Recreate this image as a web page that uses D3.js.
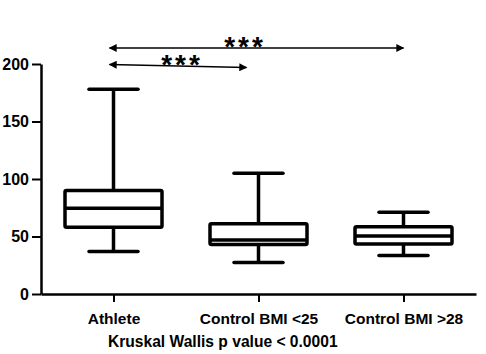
<!DOCTYPE html>
<html>
<head>
<meta charset="utf-8">
<script src="https://cdn.jsdelivr.net/npm/d3@7"></script>
<style>
  body { margin: 0; background: #fff; }
  text { font-family: "Liberation Sans", Arial, sans-serif; font-weight: bold; }
</style>
</head>
<body>
<svg width="486" height="354"></svg>
<script>
const groups = ["Athlete", "Control BMI <25", "Control BMI >28"]
const mins = [37, 27.5, 33.5]
const q1s = [58, 43, 43.5]
const medians = [74.5, 47, 50.5]
const q3s = [90, 61, 58.5]
const maxs = [178, 105, 71]
const yTicks = [0, 50, 100, 150, 200]
const comparisons = [["Athlete", "Control BMI >28"], ["Athlete", "Control BMI <25"]]
const stars = ["***", "***"]
const footnote = "Kruskal Wallis p value < 0.0001"

let svg = d3.select("svg"),
    margin = {top: 64, left: 41, right: 10, bottom: 60},
    width = +svg.attr("width") - margin.left - margin.right,
    height = +svg.attr("height") - margin.top - margin.bottom

let x = d3.scalePoint()
    .domain(groups)
    .range([0, width])
    .padding(0.5)

let y = d3.scaleLinear()
    .domain([0, 200])
    .range([height, 0])

let g = svg.append("g").attr("transform", "translate(" + margin.left + "," + margin.top + ")")

let yAxis = g.append("g")
    .call(d3.axisLeft(y).tickValues(yTicks).tickSize(9).tickSizeOuter(0))
yAxis.select(".domain").attr("stroke-width", 2.5)
yAxis.selectAll(".tick line").attr("stroke-width", 2)
yAxis.selectAll(".tick text").attr("font-size", 16).attr("fill", "#000")
    .attr("font-family", "Liberation Sans, Arial, sans-serif").attr("font-weight", "bold")

let xAxis = g.append("g")
    .attr("transform", "translate(0," + height + ")")
    .call(d3.axisBottom(x).tickSize(8).tickSizeOuter(0))
xAxis.select(".domain").attr("stroke-width", 2.5)
xAxis.selectAll(".tick line").attr("stroke-width", 2)
xAxis.selectAll(".tick text").attr("font-size", 15.5).attr("fill", "#000")
    .attr("y", 30).attr("dy", 0)
    .attr("font-family", "Liberation Sans, Arial, sans-serif").attr("font-weight", "bold")

let boxW = 97, capW = 49
let boxes = g.append("g").selectAll("g").data(groups).enter().append("g")
    .attr("stroke", "#000").attr("stroke-width", 3.5).attr("fill", "none")

boxes.append("line")
    .attr("x1", d => x(d)).attr("x2", d => x(d))
    .attr("y1", (d, i) => y(maxs[i])).attr("y2", (d, i) => y(q3s[i]))
boxes.append("line")
    .attr("x1", d => x(d)).attr("x2", d => x(d))
    .attr("y1", (d, i) => y(q1s[i])).attr("y2", (d, i) => y(mins[i]))
boxes.append("line")
    .attr("x1", d => x(d) - capW / 2).attr("x2", d => x(d) + capW / 2)
    .attr("y1", (d, i) => y(maxs[i])).attr("y2", (d, i) => y(maxs[i]))
    .attr("stroke-linecap", "round")
boxes.append("line")
    .attr("x1", d => x(d) - capW / 2).attr("x2", d => x(d) + capW / 2)
    .attr("y1", (d, i) => y(mins[i])).attr("y2", (d, i) => y(mins[i]))
    .attr("stroke-linecap", "round")
boxes.append("rect")
    .attr("x", d => x(d) - boxW / 2).attr("width", boxW)
    .attr("y", (d, i) => y(q3s[i])).attr("height", (d, i) => y(q1s[i]) - y(q3s[i]))
    .attr("rx", 1.5)
boxes.append("line")
    .attr("x1", d => x(d) - boxW / 2).attr("x2", d => x(d) + boxW / 2)
    .attr("y1", (d, i) => y(medians[i])).attr("y2", (d, i) => y(medians[i]))

// arrow heads
let defs = svg.append("defs")
defs.append("marker").attr("id", "head").attr("viewBox", "0 0 10 10")
    .attr("refX", 9).attr("refY", 5).attr("markerWidth", 11).attr("markerHeight", 8)
    .attr("markerUnits", "userSpaceOnUse").attr("orient", "auto-start-reverse")
    .append("path").attr("d", "M0,0L10,5L0,10Z").attr("fill", "#000")

let levels = [-16, 2]
let starX = [243, 180]
comparisons.forEach(function (c, i) {
    let x1 = x(c[0]) - 4
    let x2 = i == 0 ? x(c[1]) : x(c[1]) - 12
    g.append("line")
        .attr("x1", x1).attr("x2", x2)
        .attr("y1", levels[i] - (i == 1 ? 1.5 : 0)).attr("y2", levels[i] + (i == 1 ? 1.5 : 0))
        .attr("stroke", "#000").attr("stroke-width", 1.6)
        .attr("marker-start", "url(#head)").attr("marker-end", "url(#head)")
    g.append("text")
        .attr("x", starX[i] - margin.left + 2)
        .attr("y", levels[i] + 8)
        .attr("text-anchor", "middle")
        .attr("font-size", 28)
        .attr("font-weight", "normal")
        .attr("font-family", "DejaVu Sans, sans-serif")
        .attr("letter-spacing", 3)
        .text(stars[i])
})

svg.append("text")
    .attr("x", 108).attr("y", 347)
    .attr("font-size", 15.6)
    .text(footnote)
</script>
</body>
</html>
